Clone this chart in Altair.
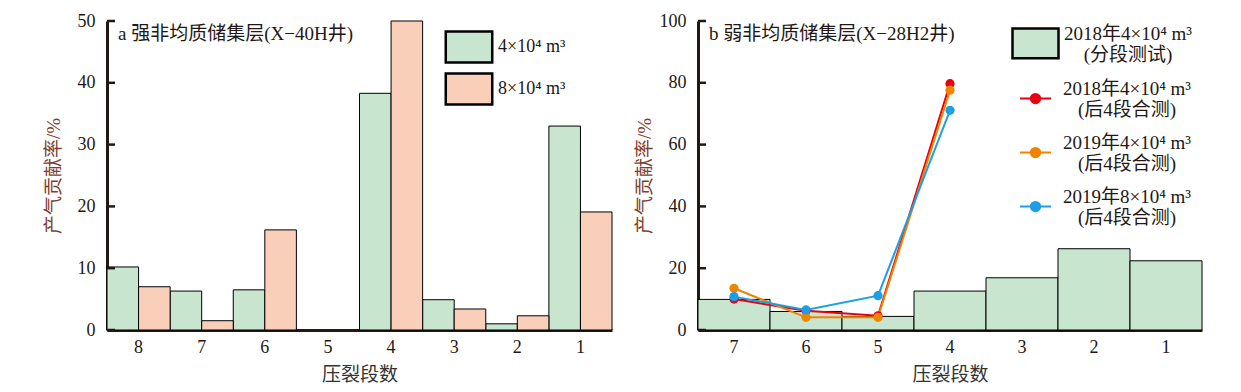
import altair as alt
import pandas as pd

FONT = "Liberation Serif, Noto Sans CJK SC"
INK = "#231815"
YTITLE = "#7e3f2f"

# ---------- data: panel a ----------
stages_a = ["8", "7", "6", "5", "4", "3", "2", "1"]
series_a = ["4×10⁴ m³", "8×10⁴ m³"]
a_4e4 = [10.2, 6.3, 6.5, 0.0, 38.3, 4.9, 1.0, 33.0]
a_8e4 = [7.0, 1.5, 16.2, 0.0, 50.0, 3.4, 2.3, 19.1]
ticks_a = [0, 10, 20, 30, 40, 50]
colors_a = ["#c8e5cf", "#f9cfba"]

# ---------- data: panel b ----------
stages_b = ["7", "6", "5", "4", "3", "2", "1"]
bar_label_b = "2018年4×10⁴ m³|(分段测试)"
bar_b = [9.9, 6.0, 4.4, 12.6, 16.9, 26.3, 22.4]
line_stages_b = ["7", "6", "5", "4"]
line_series_b = ["2018年4×10⁴ m³|(后4段合测)", "2019年4×10⁴ m³|(后4段合测)", "2019年8×10⁴ m³|(后4段合测)"]
line_2018_4 = [10.0, 6.2, 4.6, 79.7]
line_2019_4 = [13.5, 4.1, 4.1, 77.6]
line_2019_8 = [10.8, 6.5, 11.1, 71.1]
line_colors_b = ["#e60012", "#f08300", "#1d9fe3"]
ticks_b = [0, 20, 40, 60, 80, 100]

title_a = "a 强非均质储集层(X−40H井)"
title_b = "b 弱非均质储集层(X−28H2井)"

df_a = pd.DataFrame({
    "stage": stages_a * 2,
    "series": [series_a[0]] * len(stages_a) + [series_a[1]] * len(stages_a),
    "value": a_4e4 + a_8e4,
})
df_b_bar = pd.DataFrame({"stage": stages_b, "kind": [bar_label_b] * len(stages_b), "value": bar_b})
df_b_line = pd.DataFrame({
    "stage": line_stages_b * 3,
    "test": [line_series_b[0]] * 4 + [line_series_b[1]] * 4 + [line_series_b[2]] * 4,
    "value": line_2018_4 + line_2019_4 + line_2019_8,
})

RECT_WIDE = "M-1.5,-1H1.5V1H-1.5Z"
RECT_LOW = "M-1,-0.22H1V1.08H-1Z"
LINE_DOT = "M-1,0.65H1M-0.3,0.65A0.3,0.3,0,1,1,0.3,0.65A0.3,0.3,0,1,1,-0.3,0.65Z"


def y_axis(vals):
    return alt.Axis(values=vals, ticks=False, grid=False, domainColor=INK, domainWidth=3,
                    labelFont=FONT, labelFontSize=18, labelColor=INK, labelPadding=12,
                    title="产气贡献率/%", titleFont=FONT, titleFontSize=19, titleColor=YTITLE,
                    titleFontWeight="normal", titleX=-54, titleBaseline="middle")


def x_axis():
    return alt.Axis(labelAngle=0, ticks=False, grid=False, domainColor=INK, domainWidth=3,
                    labelFont=FONT, labelFontSize=18, labelColor=INK, labelPadding=8,
                    titleFont=FONT, titleFontSize=19, titleColor="#333333",
                    titleFontWeight="normal", titlePadding=9)


# ---------- panel a ----------
ya = alt.Y("value:Q", scale=alt.Scale(domain=[0, 50], nice=False), axis=y_axis(ticks_a))
bars_a = alt.Chart(df_a).transform_filter("datum.value > 0").mark_bar(
    stroke="black", strokeWidth=1).encode(
    x=alt.X("stage:N", sort=stages_a, title="压裂段数", axis=x_axis(),
            scale=alt.Scale(domain=stages_a, paddingInner=0, paddingOuter=0)),
    xOffset=alt.XOffset("series:N", sort=series_a,
                        scale=alt.Scale(domain=series_a, paddingInner=0, paddingOuter=0)),
    y=ya,
    fill=alt.Fill("series:N", scale=alt.Scale(domain=series_a, range=colors_a),
                  legend=alt.Legend(title=None, orient="none", legendX=345, legendY=9,
                                    symbolType=RECT_WIDE, symbolSize=960, symbolStrokeColor="black",
                                    symbolStrokeWidth=2.5, labelFont=FONT, labelFontSize=18,
                                    labelColor=INK, labelOffset=12, rowPadding=0)),
)
tick_a = alt.Chart(pd.DataFrame({"v": ticks_a})).mark_rule(color=INK, strokeWidth=2.5).encode(
    y=alt.Y("v:Q"), x=alt.value(0), x2=alt.value(8))
text_a = alt.Chart(pd.DataFrame({"t": [title_a]})).mark_text(
    align="left", baseline="middle", font=FONT, fontSize=19, color=INK).encode(
    text="t:N", x=alt.value(11), y=alt.value(13))
panel_a = alt.layer(bars_a, tick_a, text_a).properties(width=505, height=309)

# ---------- panel b ----------
xb = alt.X("stage:N", sort=stages_b, title="压裂段数", axis=x_axis(),
           scale=alt.Scale(domain=stages_b, paddingInner=0, paddingOuter=0))
yb = alt.Y("value:Q", scale=alt.Scale(domain=[0, 100], nice=False), axis=y_axis(ticks_b))
bars_b = alt.Chart(df_b_bar).mark_bar(stroke="black", strokeWidth=1).encode(
    x=xb, y=yb,
    fill=alt.Fill("kind:N", scale=alt.Scale(domain=[bar_label_b], range=[colors_a[0]]),
                  legend=alt.Legend(title=None, orient="none", legendX=313, legendY=-12,
                                    symbolType=RECT_LOW, symbolSize=2116, symbolStrokeColor="black",
                                    symbolStrokeWidth=2.5, labelFont=FONT, labelFontSize=19,
                                    labelColor=INK, labelAlign="center", labelOffset=68,
                                    labelExpr="split(datum.label, '|')")),
)
color_b = alt.Color("test:N", sort=line_series_b,
                    scale=alt.Scale(domain=line_series_b, range=line_colors_b),
                    legend=alt.Legend(title=None, orient="none", legendX=321, legendY=51,
                                      symbolType=LINE_DOT, symbolSize=961, symbolStrokeWidth=2,
                                      labelFont=FONT, labelFontSize=19, labelColor=INK,
                                      labelAlign="center", labelOffset=75, rowPadding=6,
                                      labelExpr="split(datum.label, '|')"))
lines_b = alt.Chart(df_b_line).mark_line(strokeWidth=2).encode(
    x=alt.X("stage:N", sort=stages_b), y=alt.Y("value:Q"), color=color_b)
dots_b = alt.Chart(df_b_line).mark_circle(size=85, opacity=1).encode(
    x=alt.X("stage:N", sort=stages_b), y=alt.Y("value:Q"), color=color_b)
tick_b = alt.Chart(pd.DataFrame({"v": ticks_b})).mark_rule(color=INK, strokeWidth=2.5).encode(
    y=alt.Y("v:Q"), x=alt.value(0), x2=alt.value(8))
text_b = alt.Chart(pd.DataFrame({"t": [title_b]})).mark_text(
    align="left", baseline="middle", font=FONT, fontSize=19, color=INK).encode(
    text="t:N", x=alt.value(11), y=alt.value(13))
panel_b = alt.layer(bars_b, lines_b, dots_b, tick_b, text_b).properties(width=504, height=309)

chart = alt.hconcat(panel_a, panel_b, spacing=22).resolve_scale(
    fill="independent", color="independent"
).properties(
    padding={"left": 36, "top": 1, "right": 0, "bottom": 0}
).configure_view(stroke=None)

chart.save("out.html", embed_options={"renderer": "svg", "actions": False})
